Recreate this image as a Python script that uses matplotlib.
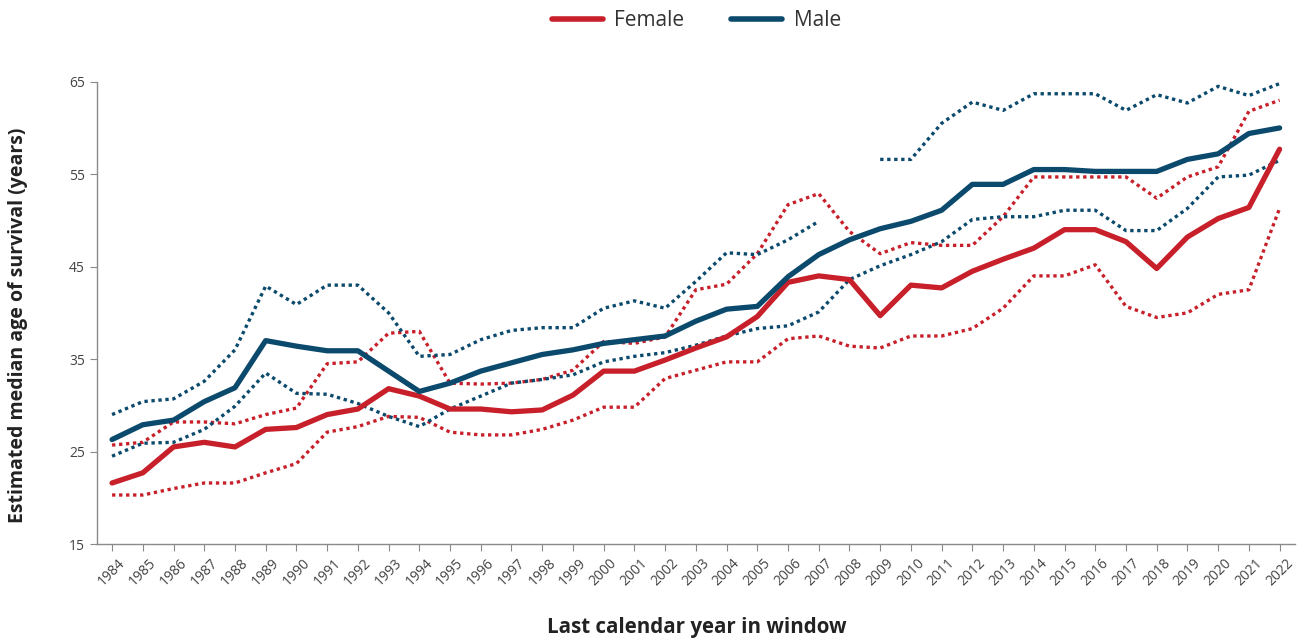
import numpy as np
import matplotlib.pyplot as plt

plt.rcParams['font.family'] = ['Open Sans', 'DejaVu Sans']

years = list(range(1984, 2023))

female = [21.6, 22.7, 25.5, 26.0, 25.5, 27.4, 27.6, 29.0, 29.6, 31.8, 31.0,
          29.6, 29.6, 29.3, 29.5, 31.1, 33.7, 33.7, 34.9, 36.2, 37.4,
          39.6, 43.3, 44.0, 43.6, 39.7, 43.0, 42.7, 44.5, 45.8, 47.0,
          49.0, 49.0, 47.7, 44.8, 48.2, 50.2, 51.4, 57.7]
female_hi = [25.7, 26.0, 28.2, 28.2, 28.0, 29.0, 29.7, 34.5, 34.7, 37.8, 38.0,
             32.4, 32.3, 32.4, 32.8, 33.8, 36.9, 36.7, 37.4, 42.5, 43.1,
             46.4, 51.7, 52.9, 48.8, 46.4, 47.6, 47.3, 47.3, 50.4, 54.7,
             54.7, 54.7, 54.7, 52.4, 54.7, 55.8, 61.8, 63.0]
female_lo = [20.3, 20.3, 21.0, 21.6, 21.6, 22.7, 23.7, 27.1, 27.7, 28.8, 28.7,
             27.1, 26.8, 26.8, 27.4, 28.4, 29.8, 29.8, 32.9, 33.8, 34.7,
             34.7, 37.2, 37.5, 36.4, 36.2, 37.5, 37.5, 38.3, 40.5, 44.0,
             44.0, 45.2, 40.7, 39.5, 40.0, 42.0, 42.5, 51.3]

male = [26.3, 27.9, 28.4, 30.4, 31.9, 37.0, 36.4, 35.9, 35.9, 33.7, 31.5,
        32.4, 33.7, 34.6, 35.5, 36.0, 36.7, 37.1, 37.5, 39.1, 40.4,
        40.7, 43.9, 46.3, 47.9, 49.1, 49.9, 51.1, 53.9, 53.9, 55.5,
        55.5, 55.3, 55.3, 55.3, 56.6, 57.2, 59.4, 60.0]
male_hi = [29.0, 30.4, 30.7, 32.6, 36.0, 42.9, 40.9, 43.0, 43.0, 40.0, 35.3,
           35.5, 37.1, 38.1, 38.4, 38.4, 40.5, 41.3, 40.5, 43.4, 46.5,
           46.3, 47.9, 49.9, np.nan, 56.6, 56.6, 60.5, 62.8, 61.9, 63.7,
           63.7, 63.7, 61.9, 63.6, 62.7, 64.5, 63.5, 64.8]
male_lo = [24.5, 25.9, 26.0, 27.4, 29.9, 33.5, 31.3, 31.2, 30.2, 28.8, 27.7,
           29.6, 31.0, 32.4, 32.8, 33.3, 34.7, 35.3, 35.7, 36.5, 37.5,
           38.3, 38.6, 40.1, 43.6, 45.1, 46.3, 47.7, 50.1, 50.4, 50.4,
           51.1, 51.1, 48.9, 48.9, 51.3, 54.7, 54.9, 56.5]

red = '#c8202b'
blue = '#0b4a6c'
grey = '#8a8a8a'

fig = plt.figure(figsize=(13.05, 6.41), dpi=100)
ax = fig.add_axes([0.0741, 0.1513, 0.9182, 0.7212])

# interval bounds dotted, medians solid on top
dots = (0, (1, 1.1))
ax.plot(years, female_hi, color=red, lw=2.4, ls=dots)
ax.plot(years, female_lo, color=red, lw=2.4, ls=dots)
ax.plot(years, male_hi, color=blue, lw=2.4, ls=dots)
ax.plot(years, male_lo, color=blue, lw=2.4, ls=dots)
ax.plot(years, female, color=red, lw=3.8, label='Female', solid_capstyle='round')
ax.plot(years, male, color=blue, lw=3.8, label='Male', solid_capstyle='round')

ax.set_xlim(1983.5, 2022.5)
ax.set_ylim(15, 65)
ax.set_yticks([15, 25, 35, 45, 55, 65])
ax.set_xticks(years)
ax.set_xticklabels([str(y) for y in years], rotation=45, ha='center')

for side in ['top', 'right']:
    ax.spines[side].set_visible(False)
for side in ['left', 'bottom']:
    ax.spines[side].set_color(grey)
    ax.spines[side].set_linewidth(1.0)
ax.tick_params(colors=grey, labelcolor='#444444', labelsize=10, length=5)

fig.text(0.0138, 0.493, 'Estimated median age of survival (years)',
         rotation=90, ha='center', va='center', fontsize=14,
         fontweight='bold', color='#222222')
fig.text(0.5337, 0.0218, 'Last calendar year in window', ha='center',
         va='center', fontsize=14.8, fontweight='bold', color='#222222')

leg = fig.legend(loc='center', bbox_to_anchor=(0.5337, 0.968), ncol=2,
                 frameon=False, fontsize=15, handlelength=2.45,
                 columnspacing=2.26, handletextpad=0.53, borderpad=0)
for line in leg.get_lines():
    line.set_linewidth(4)
for t in leg.get_texts():
    t.set_color('#333333')

fig.savefig('out.png', dpi=100)
